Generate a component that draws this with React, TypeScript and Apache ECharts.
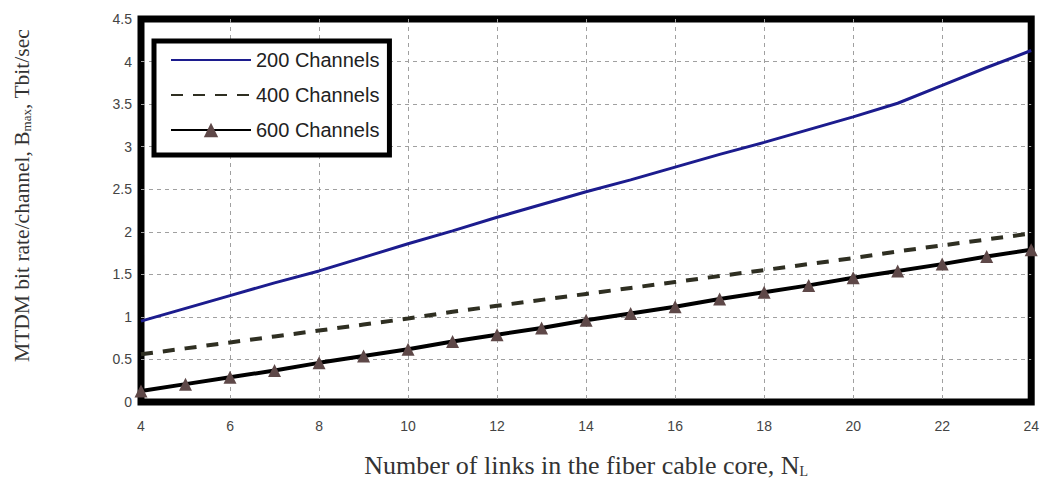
import React, { useEffect, useRef } from "react";
import * as echarts from "echarts";

const links = [4, 5, 6, 7, 8, 9, 10, 11, 12, 13, 14, 15, 16, 17, 18, 19, 20, 21, 22, 23, 24];
const ch200 = [0.95, 1.1, 1.25, 1.4, 1.54, 1.7, 1.86, 2.01, 2.17, 2.32, 2.47, 2.61, 2.76, 2.91, 3.05, 3.2, 3.35, 3.51, 3.72, 3.93, 4.13];
const ch400 = [0.56, 0.63, 0.7, 0.77, 0.84, 0.91, 0.98, 1.06, 1.13, 1.2, 1.27, 1.34, 1.41, 1.48, 1.55, 1.62, 1.69, 1.77, 1.84, 1.91, 1.98];
const ch600 = [0.13, 0.21, 0.29, 0.37, 0.46, 0.54, 0.62, 0.71, 0.79, 0.87, 0.96, 1.04, 1.12, 1.21, 1.29, 1.37, 1.46, 1.54, 1.62, 1.71, 1.79];
const seriesNames = ["200 Channels", "400 Channels", "600 Channels"];

const pairs = (ys: number[]) => links.map((x, i) => [x, ys[i]]);

export default function App() {
  const ref = useRef<HTMLDivElement>(null);
  useEffect(() => {
    document.body.style.margin = "0";
    if (!ref.current) return;
    const chart = echarts.init(ref.current, null, { renderer: "svg" });
    const grid = { color: "#a0a0a0", width: 1, type: [4, 4] as any };
    chart.setOption({
      animation: false,
      backgroundColor: "#fff",
      grid: {
        left: 141,
        right: 7,
        top: 19,
        bottom: 73,
        show: true,
        borderColor: "#000",
        borderWidth: 7,
        backgroundColor: "#fff",
      },
      legend: {
        orient: "vertical",
        left: 154,
        top: 41,
        data: [
          { name: seriesNames[0], itemStyle: { opacity: 0 } },
          { name: seriesNames[1], itemStyle: { opacity: 0 } },
          { name: seriesNames[2] },
        ],
        itemWidth: 80,
        itemHeight: 18,
        itemGap: 15,
        padding: [9, 10, 15, 16],
        borderColor: "#000",
        borderWidth: 5,
        backgroundColor: "#fff",
        textStyle: { fontFamily: "Liberation Sans", fontSize: 20, color: "#222" },
        z: 10,
      },
      xAxis: {
        type: "value",
        min: 4,
        max: 24,
        interval: 2,
        name: "Number of links in the fiber cable core, N{sub|L}",
        nameLocation: "middle",
        nameGap: 50,
        nameTextStyle: {
          fontFamily: "Liberation Serif",
          fontSize: 26,
          color: "#333",
          rich: { sub: { fontFamily: "Liberation Serif", fontSize: 14, color: "#333", verticalAlign: "bottom", padding: [10, 0, 0, 0] } },
        },
        axisLine: { show: false },
        axisTick: { show: false },
        axisLabel: { fontFamily: "Liberation Sans", fontSize: 14, color: "#444", margin: 17 },
        splitLine: { show: true, showMinLine: false, showMaxLine: false, lineStyle: grid },
      },
      yAxis: {
        type: "value",
        min: 0,
        max: 4.5,
        interval: 0.5,
        name: "MTDM bit rate/channel, B{sub|max}, Tbit/sec",
        nameLocation: "middle",
        nameGap: 108,
        nameTextStyle: {
          fontFamily: "Liberation Serif",
          fontSize: 21.5,
          color: "#333",
          padding: [0, 0, 0, 30],
          rich: { sub: { fontFamily: "Liberation Serif", fontSize: 13, color: "#333", padding: [9, 0, 0, 0] } },
        },
        axisLine: { show: false },
        axisTick: { show: false },
        axisLabel: { fontFamily: "Liberation Sans", fontSize: 14, color: "#444", margin: 9 },
        splitLine: { show: true, showMinLine: false, showMaxLine: false, lineStyle: grid },
      },
      series: [
        {
          name: seriesNames[0],
          type: "line",
          data: pairs(ch200),
          symbol: "none",
          lineStyle: { color: "#1c1c8e", width: 3 },
          itemStyle: { color: "#1c1c8e" },
          z: 3,
        },
        {
          name: seriesNames[1],
          type: "line",
          data: pairs(ch400),
          symbol: "none",
          lineStyle: { color: "#2f2f22", width: 4, type: [12, 10] },
          itemStyle: { color: "#2f2f22" },
          z: 3,
        },
        {
          name: seriesNames[2],
          type: "line",
          data: pairs(ch600),
          symbol: "triangle",
          symbolSize: 13,
          lineStyle: { color: "#000", width: 4 },
          itemStyle: { color: "#5e4848" },
          z: 4,
        },
      ],
    });
    return () => chart.dispose();
  }, []);
  return <div ref={ref} style={{ width: 1042, height: 483 }} />;
}
